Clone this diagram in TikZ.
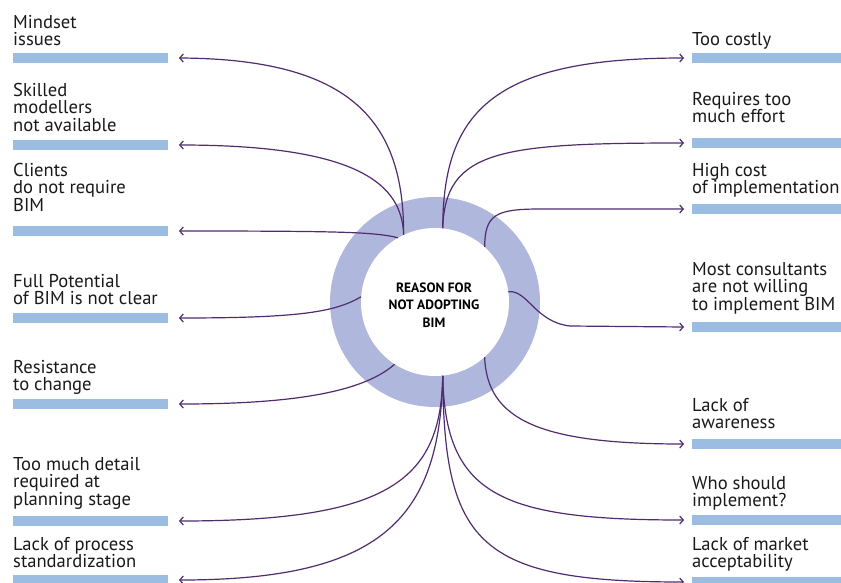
\documentclass[tikz,border=0pt]{standalone}
\usepackage{fontspec}
\setmainfont{PT Sans}
\usetikzlibrary{arrows.meta, positioning}
\definecolor{ringblue}{HTML}{B0B7DD}
\definecolor{barblue}{HTML}{9CBDE2}
\definecolor{linkpurple}{HTML}{4E2C6E}

\begin{document}
\begin{tikzpicture}[x=1pt, y=-1pt]
        % Setup the styles for bars, labels and links
        \tikzset{bar/.style={rectangle, fill=barblue, minimum height=10pt, inner sep=0pt},
                 left bar/.style={bar, minimum width=155pt, outer xsep=11pt},
                 right bar/.style={bar, minimum width=149pt, outer xsep=8pt},
                 reason/.style={align=left, anchor=north west, inner sep=0pt,
                                text=black!90, font=\fontsize{18.6}{17.5}\selectfont},
                 link/.style={line width=1.2pt, draw=linkpurple,
                              -{Straight Barb[length=3.5pt, width=8pt]}}}
        \useasboundingbox (0,0) rectangle (841,582);

        % Draw the ring
        \node[circle, fill=ringblue, minimum size=210pt, inner sep=0pt] at (435,302) (ring) {};
        \node[circle, fill=white, minimum size=148pt, inner sep=0pt] at (435,302) (hub) {};
        \node[align=center, font=\bfseries\fontsize{13.5}{17.5}\selectfont] at (434,305) (title)
            {REASON FOR\\NOT ADOPTING\\BIM};

        % Draw the bars on the left
        \node[left bar] at (90.5,58)  (mindset)  {};
        \node[left bar] at (90.5,145) (skilled)  {};
        \node[left bar] at (90.5,231) (clients)  {};
        \node[left bar] at (90.5,318) (fullpot)  {};
        \node[left bar] at (90.5,404) (resist)   {};
        \node[left bar] at (90.5,521) (detail)   {};
        \node[left bar] at (90.5,580) (process)  {};
        % Draw the bars on the right
        \node[right bar] at (766.5,58)  (costly)   {};
        \node[right bar] at (766.5,143) (effort)   {};
        \node[right bar] at (766.5,209) (highcost) {};
        \node[right bar] at (766.5,327) (consult)  {};
        \node[right bar] at (766.5,444) (aware)    {};
        \node[right bar] at (766.5,520) (who)      {};
        \node[right bar] at (766.5,582) (market)   {};

        % Labels
        \node[reason] at (13,15)  (mindset label) {Mindset\\issues};
        \node[reason] at (13,83)  (skilled label) {Skilled\\modellers\\not available};
        \node[reason] at (13,163) (clients label) {Clients\\do not require\\BIM};
        \node[reason] at (13,274) (fullpot label) {Full Potential\\of BIM is not clear};
        \node[reason] at (13,360) (resist label)  {Resistance\\to change};
        \node[reason] at (13,457) (detail label)  {Too much detail\\required at\\planning stage};
        \node[reason] at (13,537) (process label) {Lack of process\\standardization};
        \node[reason] at (692,32)  (costly label)   {Too costly};
        \node[reason] at (692,92)  (effort label)   {Requires too\\much effort};
        \node[reason] at (692,163) (highcost label) {High cost\\of implementation};
        \node[reason] at (692,262) (consult label)  {Most consultants\\are not willing\\to implement BIM};
        \node[reason] at (692,398) (aware label)    {Lack of\\awareness};
        \node[reason] at (692,476) (who label)      {Who should\\implement?};
        \node[reason] at (692,537) (market label)   {Lack of market\\acceptability};

        % Connect the ring with the bars
        \draw[link] (hub.115) .. controls (404,120) and (350,59) .. (mindset.east);
        \draw[link] (hub.115) .. controls (402,185) and (360,145) .. (skilled.east);
        \draw[link] (hub.120) .. controls (375,232) and (340,231) .. (clients.east);
        \draw[link] (hub.176) .. controls (335,312) and (300,318) .. (fullpot.east);
        \draw[link] (hub.237) .. controls (360,395) and (280,404) .. (resist.east);
        \draw[link] (hub.276) .. controls (441,480) and (390,521) .. (detail.east);
        \draw[link] (hub.276) .. controls (440,520) and (380,580) .. (process.east);
        \draw[link] (hub.84)  .. controls (443,110) and (495,58)  .. (costly.west);
        \draw[link] (hub.84)  .. controls (445,150) and (500,143) .. (effort.west);
        \draw[link] (hub.48)  .. controls (485,215) and (495,209) .. (540,209) -- (highcost.west);
        \draw[link] (hub.8)   .. controls (528,290) and (535,322) .. (570,326) -- (consult.west);
        \draw[link] (hub.-48) .. controls (487,420) and (540,444) .. (aware.west);
        \draw[link] (hub.276) .. controls (445,495) and (500,520) .. (who.west);
        \draw[link] (hub.276) .. controls (444,545) and (480,582) .. (market.west);
\end{tikzpicture}
\end{document}
